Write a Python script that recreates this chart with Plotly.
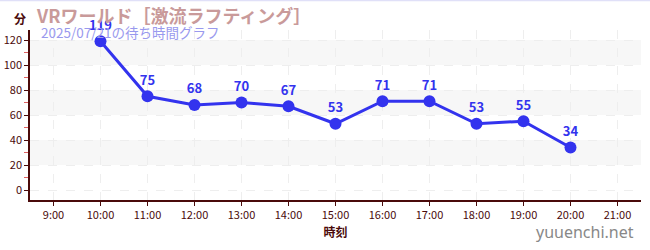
import plotly.graph_objects as go

hours = [10, 11, 12, 13, 14, 15, 16, 17, 18, 19, 20]
waits = [119, 75, 68, 70, 67, 53, 71, 71, 53, 55, 34]
tick_hours = list(range(9, 22))
tick_labels = [f"{h}:00" for h in tick_hours]
y_ticks = [0, 20, 40, 60, 80, 100, 120]
bands = [(20, 40), (60, 80), (100, 120)]

title_text = "VRワールド［激流ラフティング］"
subtitle_text = "2025/07/21の待ち時間グラフ"

FONT = "Noto Sans CJK JP"
AX = "#4a0a0a"
LINE = "#3333ee"

fig = go.Figure()
fig.add_trace(go.Scatter(
    x=hours, y=waits, mode="lines+markers+text",
    line=dict(color=LINE, width=3),
    marker=dict(color=LINE, size=12),
    text=[str(v) for v in waits], textposition="top center",
    textfont=dict(color=LINE, size=13, family=FONT, weight="bold"),
    hoverinfo="skip", showlegend=False, cliponaxis=False,
))

shapes = []
for lo, hi in bands:
    shapes.append(dict(type="rect", xref="paper", yref="y", x0=0, x1=1, y0=lo, y1=hi,
                       fillcolor="#f7f7f7", line=dict(width=0), layer="below"))
shapes.append(dict(type="line", xref="paper", yref="paper", x0=-0.1, x1=1.1, y0=1.175, y1=1.175,
                   line=dict(color="#e0e0f8", width=2)))

fig.update_layout(
    width=650, height=250,
    margin=dict(l=30, r=9, t=30, b=50),
    paper_bgcolor="white", plot_bgcolor="white",
    font=dict(family=FONT, color=AX),
    shapes=shapes,
    xaxis=dict(
        range=[8.5, 21.5], tickvals=tick_hours, ticktext=tick_labels, automargin=False,
        tickfont=dict(size=11, color=AX), ticks="outside", ticklen=4, tickcolor=AX,
        showline=True, linecolor=AX, linewidth=1.5,
        showgrid=True, gridcolor="#eeeeee", griddash="dash", gridwidth=1,
        zeroline=False,
        title=dict(text="<b>時刻</b>", font=dict(size=12, color=AX), standoff=8),
    ),
    yaxis=dict(
        range=[-8, 128], tickvals=y_ticks, automargin=False,
        tickfont=dict(size=11, color=AX), ticks="outside", ticklen=4, tickcolor=AX,
        showline=True, linecolor=AX, linewidth=1.5,
        showgrid=True, gridcolor="#eeeeee", griddash="dash", gridwidth=1,
        zeroline=False,
        minor=dict(tickvals=[10, 30, 50, 70, 90, 110], ticks="outside", ticklen=4,
                   tickcolor="#e06060", showgrid=False),
    ),
    annotations=[
        dict(text="<b>分</b>", xref="paper", yref="paper", x=-0.017, y=1.07, xanchor="center",
             yanchor="middle", showarrow=False, font=dict(size=12, color=AX)),
        dict(text="<b>" + title_text + "</b>", xref="paper", yref="paper", x=0.006, y=1.088,
             xanchor="left", yanchor="middle", showarrow=False,
             font=dict(size=18, color="#c99a9a")),
        dict(text=subtitle_text, xref="paper", yref="paper", x=0.015, y=0.988,
             xanchor="left", yanchor="middle", showarrow=False,
             font=dict(size=13.5, color="#9999ee")),
        dict(text="yuuenchi.net", xref="paper", yref="paper", x=0.992, y=-0.188,
             xanchor="right", yanchor="middle", showarrow=False,
             font=dict(size=16, color="#888888", family="Noto Sans")),
    ],
)

fig.write_html("out.html")
